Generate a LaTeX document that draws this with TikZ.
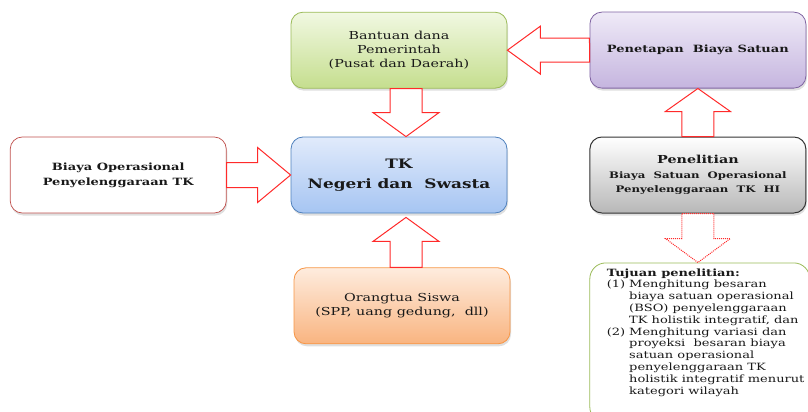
\documentclass[tikz,border=0pt]{standalone}
\usepackage{fontspec}
\setmainfont{DejaVu Serif}[FakeStretch=1.3]
\usetikzlibrary{positioning, calc, shadows}

\definecolor{greenline}{HTML}{9BBB59}
\definecolor{purpleline}{HTML}{8064A2}
\definecolor{blueline}{HTML}{4F81BD}
\definecolor{orangeline}{HTML}{F79646}
\definecolor{redline}{HTML}{C0504D}
\definecolor{arrowred}{HTML}{FF2A2A}

\tikzset{
  box/.style={draw, rounded corners=12pt, minimum width=216pt,
    minimum height=76pt, align=center, text=black!90, line width=0.8pt,
    drop shadow={shadow xshift=1pt, shadow yshift=-2.5pt, opacity=0.25}},
  greenbox/.style={draw=greenline, top color={rgb,255:red,241;green,248;blue,226}, bottom color={rgb,255:red,197;green,222;blue,142}},
  purplebox/.style={draw=purpleline, top color={rgb,255:red,239;green,234;blue,247}, bottom color={rgb,255:red,197;green,181;blue,223}},
  bluebox/.style={draw=blueline, top color={rgb,255:red,225;green,235;blue,251}, bottom color={rgb,255:red,166;green,197;blue,242}},
  graybox/.style={draw=black!80, line width=1pt, top color=white, bottom color=black!28},
  orangebox/.style={draw=orangeline, top color={rgb,255:red,254;green,236;blue,222}, bottom color={rgb,255:red,249;green,180;blue,128}},
  whitebox/.style={draw=redline, fill=white, line width=0.7pt, drop shadow={opacity=0}},
  % block arrow between two points: shaft half width, head half width, head length
  blockarrow/.style n args={3}{to path={
    let \p1=(\tikztostart), \p2=(\tikztotarget),
        \n1={atan2(\y2-\y1,\x2-\x1)}, \n2={veclen(\x2-\x1,\y2-\y1)} in
    ($(\p1)+(\n1+90:#1)$) -- ($(\p1)+(\n1:\n2-#3)+(\n1+90:#1)$)
    -- ($(\p1)+(\n1:\n2-#3)+(\n1+90:#2)$) -- (\p2)
    -- ($(\p1)+(\n1:\n2-#3)+(\n1-90:#2)$) -- ($(\p1)+(\n1:\n2-#3)+(\n1-90:#1)$)
    -- ($(\p1)+(\n1-90:#1)$) -- cycle}},
  arrowline/.style={draw=arrowred, fill=white, line width=1pt},
}

\begin{document}
\begin{tikzpicture}[x=1pt, y=-1pt,
    tujuanbox/.style={draw=greenline, fill=white, rounded corners=16pt,
      line width=0.8pt, inner xsep=17pt, inner ysep=5pt,
      font=\fontsize{10}{11.8}\selectfont, text=black!90}]
\useasboundingbox (0,0) rectangle (808,412);

\node[box, bluebox, font=\fontsize{13}{20}\selectfont\bfseries] (tk) at (399,175)
  {TK\\Negeri dan\ \ Swasta};
\node[box, greenbox, above=48pt of tk, font=\fontsize{11}{14}\selectfont] (bantuan)
  {Bantuan dana\\Pemerintah\\(Pusat dan Daerah)};
\node[box, whitebox, left=64pt of tk, font=\fontsize{10}{15}\selectfont\bfseries] (biaya)
  {Biaya Operasional\\Penyelenggaraan TK};
\node[box, graybox, right=82pt of tk, font=\fontsize{9}{14.5}\selectfont\bfseries] (penelitian)
  {{\fontsize{11}{14.5}\selectfont Penelitian}\\Biaya\ \ Satuan\ \ Operasional\\Penyelenggaraan\ \ TK\ \ HI};
\node[box, purplebox, above=48pt of penelitian, font=\fontsize{10}{14}\selectfont\bfseries] (penetapan)
  {Penetapan\ \ Biaya Satuan};
\node[box, orangebox, below=54pt of tk, xshift=3pt, font=\fontsize{11}{14}\selectfont] (orangtua)
  {Orangtua Siswa\\(SPP, uang gedung,\ \ dll)};
\node[tujuanbox, below=49pt of penelitian.south west, anchor=north west] (tujuan)
  {\parbox[t][150pt][t]{186pt}{%
    \begin{tabular}{@{}l@{\hspace{4pt}}l@{}}
      \multicolumn{2}{@{}l@{}}{\textbf{Tujuan penelitian:}}\\
      (1) & Menghitung besaran\\
          & biaya satuan operasional\\
          & (BSO) penyelenggaraan\\
          & TK holistik integratif, dan\\
      (2) & Menghitung variasi dan\\
          & proyeksi\ \ besaran biaya\\
          & satuan operasional\\
          & penyelenggaraan TK\\
          & holistik integratif menurut\\
          & kategori wilayah
    \end{tabular}}};

% block arrows
\draw[arrowline] (penetapan.west) to[blockarrow={12pt}{24pt}{33pt}] (bantuan.east);
\draw[arrowline] ([xshift=7pt]bantuan.south) to[blockarrow={16pt}{33pt}{24pt}] ([xshift=7pt]tk.north);
\draw[arrowline] (biaya.east) to[blockarrow={12.5pt}{27.5pt}{33pt}] (tk.west);
\draw[arrowline] ([xshift=4pt]orangtua.north) to[blockarrow={16pt}{33pt}{24pt}] ([xshift=7pt,yshift=-4pt]tk.south);
\draw[arrowline] (penelitian.north) to[blockarrow={16pt}{32.5pt}{23pt}] (penetapan.south);
\draw[arrowline, dash pattern=on 1pt off 1pt] (penelitian.south)
  to[blockarrow={16pt}{32.5pt}{24pt}] (penelitian.south |- tujuan.north);
\end{tikzpicture}
\end{document}
